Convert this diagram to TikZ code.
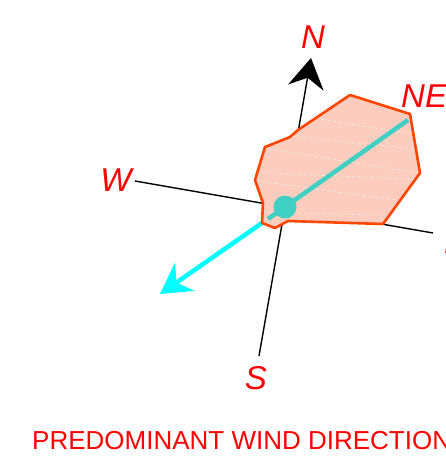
\documentclass[tikz,border=0pt]{standalone}
\usepackage{fontspec}
\setmainfont{Liberation Sans}
\usetikzlibrary{arrows.meta}
\definecolor{windred}{RGB}{255,0,0}
\definecolor{roseedge}{RGB}{255,69,0}
\definecolor{rosefill}{RGB}{252,205,190}
\definecolor{windteal}{RGB}{64,208,195}
\definecolor{windcyan}{RGB}{0,255,255}
\tikzset{
  dirlabel/.style={text=windred,font=\fontsize{33}{33}\selectfont\itshape,inner sep=0pt},
  axisline/.style={black,line width=1.4pt},
}
\begin{document}
\begin{tikzpicture}[x=1pt,y=-1pt]
  \useasboundingbox (0,0) rectangle (445,470);
  % stred ruzice a konce os
  \coordinate (C) at (285,207);
  \coordinate (Ntip) at (311,58);
  \coordinate (Send) at (259,356);
  \coordinate (Wend) at (135,181);
  \coordinate (Eend) at (433,233);
  \coordinate (NEpt) at (408,120);
  \coordinate (Tend) at (268,219);
  \coordinate (Wtip) at (160,294);
  % osy
  \draw[axisline,-{Stealth[length=30pt,width=36pt,inset=10pt]}] (Send) -- (Ntip);
  \draw[axisline] (Wend) -- (Eend);
  % prevladajici smer vetru
  \draw[windcyan,line width=4.5pt,-{Stealth[length=30pt,width=34pt,inset=10pt]}] (C) -- (Wtip);
  % vetrna ruzice
  \def\rose{(350,95) -- (410,114) -- (420,173) -- (383,224) -- (288,221) -- (275,228)
    -- (262,223) -- (263,203) -- (255,180) -- (265,147) -- (290,137) -- (298,130) -- cycle}
  \fill[rosefill] \rose;
  \begin{scope}
    \clip \rose;
    \foreach \ya/\yb in {108/136,132/150,146/174,172/180,180/204,212/216}
      \draw[white,dashed,line width=0.5pt,opacity=0.8] (250,\ya) -- (425,\yb);
  \end{scope}
  \draw[roseedge,line width=2.6pt,line join=round] \rose;
  \draw[windteal,line width=4.5pt] (NEpt) -- (Tend);
  \fill[windteal] (C) circle (11.5);
  % popisky
  \node[dirlabel] (N) at (313,37) {N};
  \node[dirlabel] (W) at (116,180) {W};
  \node[dirlabel] (S) at (256,378) {S};
  \node[dirlabel,anchor=west] (NE) at (401,96) {NE};
  \node[dirlabel,anchor=west] (E) at (444,242) {E};
  \node[text=windred,font=\fontsize{26}{26}\selectfont,inner sep=0pt,anchor=base west]
    (title) at (32,449) {PREDOMINANT WIND DIRECTION};
\end{tikzpicture}
\end{document}
